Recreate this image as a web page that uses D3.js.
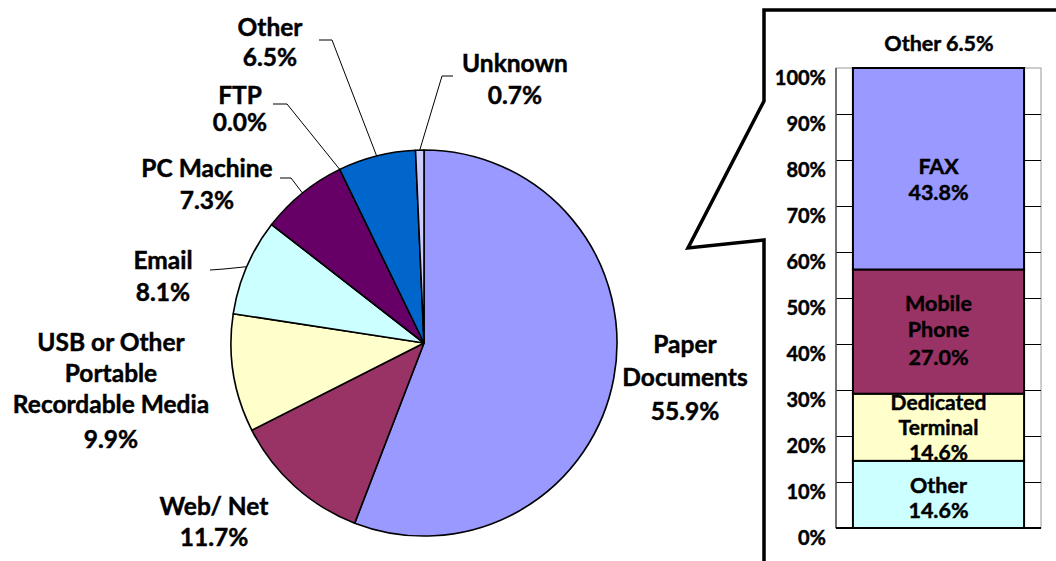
<!DOCTYPE html>
<html>
<head>
<meta charset="utf-8">
<script src="https://cdn.jsdelivr.net/npm/d3@7"></script>
<style>
  html, body { margin: 0; padding: 0; background: #fff; }
  svg { display: block; }
  text { font-family: Lato, "Open Sans", sans-serif; font-weight: 700; fill: #000; stroke: #000; stroke-width: 0.45px; }
</style>
</head>
<body>
<svg id="chart" width="1056" height="561"></svg>
<script>
// Leak channel shares (percent), clockwise from 12 o'clock
const channels = ["Paper Documents", "Web/ Net", "USB or Other Portable Recordable Media",
                  "Email", "PC Machine", "FTP", "Other", "Unknown"];
const channelShares = [55.9, 11.7, 9.9, 8.1, 7.3, 0.0, 6.5, 0.7];
const channelColors = ["#9999ff", "#993366", "#ffffcc", "#ccffff", "#660066", "#ff8080", "#0066cc", "#ccccff"];

// Breakdown of the "Other" channel
const otherTitle = "Other";
const otherShare = 6.5;
const otherParts = ["Other", "Dedicated Terminal", "Mobile Phone", "FAX"];
const otherPartShares = [14.6, 14.6, 27.0, 43.8];
const otherPartColors = ["#ccffff", "#ffffcc", "#993366", "#9999ff"];
const yTicks = [0, 10, 20, 30, 40, 50, 60, 70, 80, 90, 100];

const svg = d3.select("#chart");
const pct = v => d3.format(".1f")(v) + "%";

// ---------- Pie ----------
const cx = 424, cy = 343, R = 193;
const pieG = svg.append("g").attr("transform", `translate(${cx},${cy})`);
const pie = d3.pie().sort(null).value(d => d.v).startAngle(0).endAngle(2 * Math.PI);
const arcs = pie(channels.map((c, i) => ({ c, v: channelShares[i], col: channelColors[i] })));
const arc = d3.arc().innerRadius(0).outerRadius(R);

pieG.selectAll("path.slice")
  .data(arcs.filter(a => a.endAngle - a.startAngle > 0))
  .join("path")
  .attr("class", "slice")
  .attr("d", arc)
  .attr("fill", d => d.data.col)
  .attr("stroke", "#000")
  .attr("stroke-width", 1.6)
  .attr("stroke-linejoin", "round");

// label placement: text lines, centre x, line centres, leader elbow points
const labelLayout = {
  "Paper Documents": { x: 685, lines: ["Paper", "Documents"], ys: [344, 377, 411] },
  "Web/ Net": { x: 214, lines: ["Web/ Net"], ys: [506, 537] },
  "USB or Other Portable Recordable Media": { x: 111, lines: ["USB or Other", "Portable", "Recordable Media"], ys: [342, 373, 404, 439] },
  "Email": { x: 163, lines: ["Email"], ys: [260, 292], leader: [[210, 270], [224, 269]] },
  "PC Machine": { x: 207, lines: ["PC Machine"], ys: [168, 200], leader: [[280, 178], [291, 178]] },
  "FTP": { x: 240, lines: ["FTP"], ys: [95, 122], leader: [[273, 104], [287, 104]] },
  "Other": { x: 270, lines: ["Other"], ys: [27, 57], leader: [[319, 40], [332, 40]] },
  "Unknown": { x: 515, lines: ["Unknown"], ys: [63, 95], leader: [[453, 76], [442, 76]] }
};

const labelsG = svg.append("g");
arcs.forEach(a => {
  const L = labelLayout[a.data.c];
  const t = labelsG.append("text").attr("text-anchor", "middle").style("font-size", "24.5px");
  const lines = L.lines.concat([pct(a.data.v)]);
  lines.forEach((s, i) => {
    t.append("tspan").attr("x", L.x).attr("y", L.ys[i]).attr("dy", "0.35em").text(s);
  });
  if (L.leader) {
    const mid = (a.startAngle + a.endAngle) / 2;
    const end = [cx + R * Math.sin(mid), cy - R * Math.cos(mid)];
    labelsG.append("path")
      .attr("d", d3.line()(L.leader.concat([end])))
      .attr("fill", "none")
      .attr("stroke", "#000")
      .attr("stroke-width", 1);
  }
});

// ---------- Callout frame ----------
svg.append("path")
  .attr("d", "M1060,10 L764,10 L764,101 L688,248 L764,240 L764,565")
  .attr("fill", "none")
  .attr("stroke", "#000")
  .attr("stroke-width", 3.5)
  .attr("stroke-linejoin", "miter");

// ---------- Stacked bar ----------
const plot = { left: 836, right: 1041, top: 68, bottom: 528 };
const y = d3.scaleLinear().domain([0, 100]).range([plot.bottom, plot.top]);
const x = d3.scaleBand().domain([otherTitle]).range([plot.left, plot.right]).padding(0.09);

const barG = svg.append("g");
barG.append("rect")
  .attr("x", plot.left).attr("y", plot.top)
  .attr("width", plot.right - plot.left).attr("height", plot.bottom - plot.top)
  .attr("fill", "none").attr("stroke", "#9a9a9a").attr("stroke-width", 1);

barG.selectAll("line.grid")
  .data(yTicks.filter(t => t > 0 && t < 100))
  .join("line")
  .attr("class", "grid")
  .attr("x1", plot.left).attr("x2", plot.right)
  .attr("y1", d => Math.round(y(d)) + 0.5).attr("y2", d => Math.round(y(d)) + 0.5)
  .attr("stroke", "#000").attr("stroke-width", 1);

// stack segments
let acc = 0;
const segs = otherParts.map((p, i) => {
  const s = { p, v: otherPartShares[i], col: otherPartColors[i], y0: acc, y1: acc + otherPartShares[i] };
  acc += otherPartShares[i];
  return s;
});

barG.selectAll("rect.seg")
  .data(segs)
  .join("rect")
  .attr("class", "seg")
  .attr("x", x(otherTitle))
  .attr("width", x.bandwidth())
  .attr("y", d => y(d.y1))
  .attr("height", d => y(d.y0) - y(d.y1))
  .attr("fill", d => d.col)
  .attr("stroke", "#000")
  .attr("stroke-width", 2);

// axis lines
barG.append("line")
  .attr("x1", plot.left).attr("x2", plot.left).attr("y1", plot.top).attr("y2", plot.bottom)
  .attr("stroke", "#555").attr("stroke-width", 1.5);
barG.append("line")
  .attr("x1", plot.left).attr("x2", plot.right).attr("y1", plot.bottom).attr("y2", plot.bottom)
  .attr("stroke", "#000").attr("stroke-width", 2);

// y tick labels (sit just below their gridline)
const yAxis = d3.axisLeft(y).tickValues(yTicks).tickSize(0).tickPadding(10).tickFormat(d => d + "%");
const yAxisG = barG.append("g").attr("transform", `translate(${plot.left},10)`).call(yAxis);
yAxisG.select(".domain").remove();
yAxisG.selectAll("text")
  .style("font-size", "20px").style("font-family", "Lato, sans-serif").style("font-weight", 700)
  .attr("fill", "#000").style("stroke", "#000").style("stroke-width", "0.45px");

// segment labels
const segLines = {
  "FAX": { lines: ["FAX"], ys: [166, 192] },
  "Mobile Phone": { lines: ["Mobile", "Phone"], ys: [303, 329, 357] },
  "Dedicated Terminal": { lines: ["Dedicated", "Terminal"], ys: [403, 428, 453], size: 21 },
  "Other": { lines: ["Other"], ys: [485, 510] }
};
const barCx = x(otherTitle) + x.bandwidth() / 2;
segs.forEach(s => {
  const L = segLines[s.p];
  const t = barG.append("text").attr("text-anchor", "middle").style("font-size", (L.size || 21.5) + "px");
  L.lines.concat([pct(s.v)]).forEach((line, i) => {
    t.append("tspan").attr("x", barCx).attr("y", L.ys[i]).attr("dy", "0.35em").text(line);
  });
});

// panel title
svg.append("text")
  .attr("x", 939).attr("y", 43).attr("dy", "0.35em")
  .attr("text-anchor", "middle")
  .style("font-size", "21.5px")
  .text(`${otherTitle} ${pct(otherShare)}`);
</script>
</body>
</html>
